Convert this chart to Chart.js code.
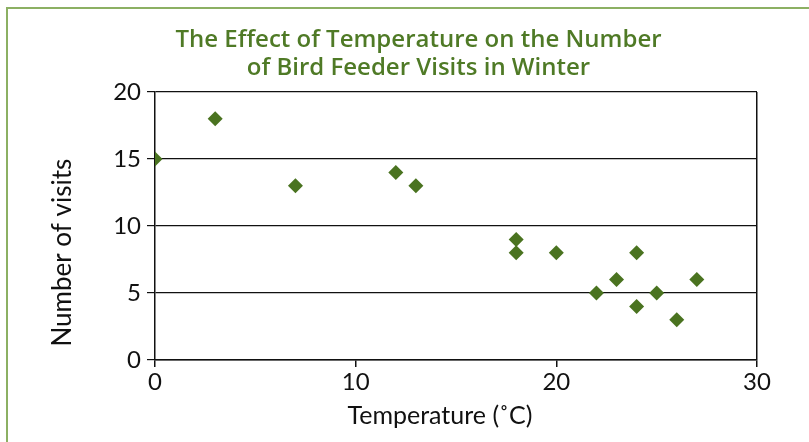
<!DOCTYPE html>
<html>
<head>
<meta charset="utf-8">
<script src="https://cdn.jsdelivr.net/npm/chart.js@4"></script>
<style>
    body { margin: 0; background: #fff; }
    #wrap { position: relative; width: 809px; height: 442px; overflow: hidden; }
    #frame { position: absolute; left: 6px; top: 7px; width: 900px; height: 500px;
             border-left: 2px solid #8cb063; border-top: 2px solid #8cb063; }
    canvas { position: absolute; left: 0; top: 0; }
</style>
</head>
<body>
<div id="wrap">
    <div id="frame"></div>
    <canvas id="myChart" width="809" height="442"></canvas>
</div>
<script>
const temperatures = [0, 3, 7, 12, 13, 18, 18, 20, 22, 23, 24, 24, 25, 26, 27];
const visits = [15, 18, 13, 14, 13, 9, 8, 8, 5, 6, 8, 4, 5, 3, 6];
const xTicks = [0, 10, 20, 30];
const yTicks = [0, 5, 10, 15, 20];

const points = temperatures.map((t, i) => ({ x: t, y: visits[i] }));

const ctx = document.getElementById('myChart');

new Chart(ctx, {
    type: 'scatter',
    data: {
        datasets: [{
            label: 'Visits',
            data: points,
            pointStyle: 'rectRot',
            pointRadius: 7.5,
            backgroundColor: '#4a7320',
            borderColor: '#4a7320',
            borderWidth: 0
        }]
    },
    options: {
        responsive: false,
        animation: false,
        layout: { padding: { left: 28, right: 0, top: 0, bottom: 0 } },
        plugins: {
            legend: { display: false },
            tooltip: { enabled: false },
            title: {
                display: true,
                text: ['The Effect of Temperature on the Number', 'of Bird Feeder Visits in Winter'],
                color: '#4f7a26',
                font: { family: 'Open Sans', size: 24, weight: 600, lineHeight: 1.167 },
                padding: { top: 26, bottom: 10 }
            }
        },
        scales: {
            x: {
                type: 'linear',
                min: 0,
                max: 30,
                afterBuildTicks: scale => { scale.ticks = xTicks.map(v => ({ value: v })); },
                afterFit: scale => { scale.height = 82; },
                border: { color: '#111', width: 1.5 },
                grid: {
                    drawOnChartArea: true,
                    color: c => c.tick && c.tick.value === 30 ? '#111' : 'rgba(0,0,0,0)',
                    tickColor: '#111',
                    lineWidth: 1.5,
                    tickLength: 7
                },
                ticks: {
                    color: '#111',
                    padding: 1,
                    font: { family: 'Lato', size: 24 }
                },
                title: {
                    display: true,
                    text: 'Temperature (˚C)     ',
                    color: '#111',
                    font: { family: 'Lato', size: 25 },
                    padding: { top: 0, bottom: 11 }
                }
            },
            y: {
                type: 'linear',
                min: 0,
                max: 20,
                afterBuildTicks: scale => { scale.ticks = yTicks.map(v => ({ value: v })); },
                afterFit: scale => { scale.width = 127; },
                border: { color: '#111', width: 1.5 },
                grid: {
                    color: '#111',
                    lineWidth: 1.2,
                    tickLength: 8
                },
                ticks: {
                    color: '#111',
                    padding: 6,
                    font: { family: 'Lato', size: 24 }
                },
                title: {
                    display: true,
                    text: 'Number of visits        ',
                    color: '#111',
                    font: { family: 'Lato', size: 26 },
                    padding: { top: 19, bottom: 0 }
                }
            },
            yRight: {
                type: 'linear',
                position: 'right',
                min: 0,
                max: 20,
                afterFit: scale => { scale.width = 52; },
                border: { display: false },
                grid: { drawOnChartArea: false, drawTicks: false },
                ticks: { display: false }
            }
        }
    }
});
</script>
</body>
</html>
